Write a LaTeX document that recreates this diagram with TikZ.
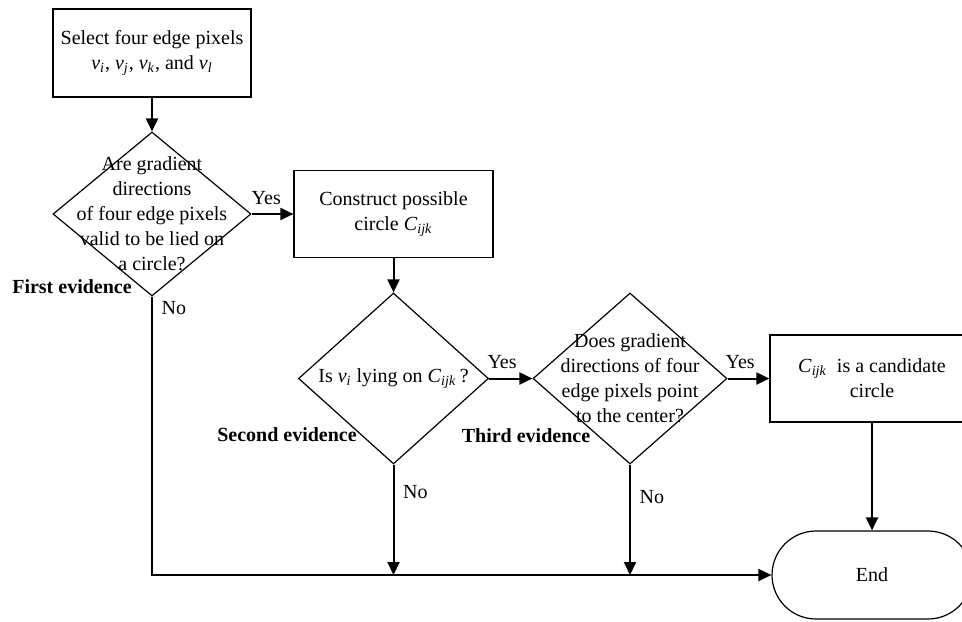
\documentclass[tikz,border=0pt]{standalone}
\usepackage{fontspec}
\setmainfont{Liberation Serif}
\usetikzlibrary{shapes.geometric}
\usetikzlibrary{arrows.meta}

\newcommand{\vsub}[2]{\textit{#1}\textsubscript{\textit{#2}}}

\begin{document}
\begin{tikzpicture}[
        x=0.5pt, y=-0.5pt, >={Triangle[length=6.5pt,width=6pt]},
        font=\fontsize{10}{12.5}\selectfont,
        box/.style={draw, line width=0.6pt, rectangle, inner sep=0pt, align=center},
        decision/.style={draw, line width=0.6pt, diamond, inner sep=0pt},
        flow/.style={line width=1pt},
        evidence/.style={font=\fontsize{10}{12.5}\selectfont\bfseries},
    ]
    \useasboundingbox (0,0) rectangle (962,621);
    \clip (0,0) rectangle (962,621);

    \node[box, minimum width=99pt, minimum height=44pt] (sel) at (152,53)
        {Select four edge pixels\\ \vsub{v}{i}, \vsub{v}{j}, \vsub{v}{k}, and \vsub{v}{l}};
    \node[decision, minimum width=99pt, minimum height=82pt] (q1) at (152,214) {};
    \node[align=center, inner sep=0pt] (q1text) at (q1)
        {Are gradient\\ directions\\ of four edge pixels\\ valid to be lied on\\ a circle?};

    \node[box, minimum width=99.5pt, minimum height=43.5pt] (cons) at (393.5,214)
        {Construct possible\\ circle \vsub{C}{ijk}};

    \node[decision, minimum width=95pt, minimum height=85.5pt] (q2) at (393.5,378.5) {};
    \node[inner sep=0pt] (q2text) at (q2) {Is \vsub{v}{i} lying on \vsub{C}{ijk}\,?};

    \node[decision, minimum width=97pt, minimum height=85.5pt] (q3) at (630,378.5) {};
    \node[align=center, inner sep=0pt] (q3text) at (q3)
        {Does gradient\\ directions of four\\ edge pixels point\\ to the center?};

    \node[box, minimum width=102pt, minimum height=43.5pt] (cand) at (872,378.5)
        {\vsub{C}{ijk}\ \ is a candidate\\ circle};

    \node[box, rounded corners=22pt, minimum width=100pt, minimum height=44pt] (end) at (872,575) {End};

    \draw[flow,->] (sel) -- (q1);
    \draw[flow,->] (q1) -- (cons) node[pos=0.35, above=1pt] {Yes};
    \draw[flow,->] (cons) -- (q2);
    \draw[flow,->] (q2) -- (q3) node[pos=0.3, above=1pt] {Yes};
    \draw[flow,->] (q3) -- (cand) node[pos=0.3, above=1pt] {Yes};
    \draw[flow,->] (cand) -- (end);

    \draw[flow,->] (q1.south) |- (end.west) node[pos=0.02, right=1pt] {No};
    \draw[flow,->] (q2.south) -- (q2.south |- end.west) node[pos=0.25, right=1pt] {No};
    \draw[flow,->] (q3.south) -- (q3.south |- end.west) node[pos=0.29, right=1pt] {No};

    \node[evidence] (ev1) at (72,287) {First evidence};
    \node[evidence] (ev2) at (287,435) {Second evidence};
    \node[evidence] (ev3) at (526,436) {Third evidence};
\end{tikzpicture}
\end{document}
